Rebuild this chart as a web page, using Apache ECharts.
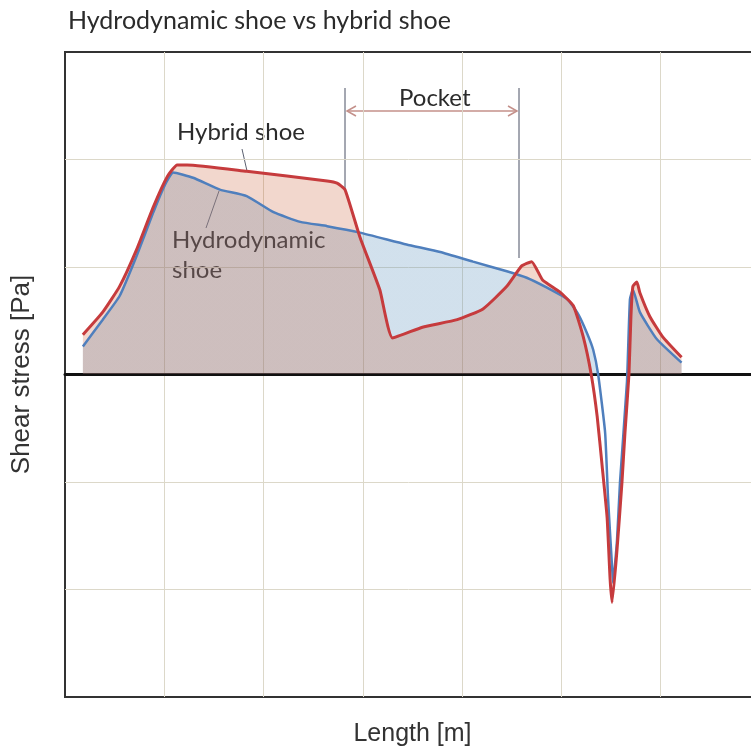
<!DOCTYPE html>
<html>
<head>
<meta charset="utf-8">
<script src="https://cdn.jsdelivr.net/npm/echarts@6/dist/echarts.min.js"></script>
<style>
  html, body { margin: 0; padding: 0; background: #fff; }
  #chart { width: 751px; height: 748px; }
</style>
</head>
<body>
<div id="chart"></div>
<script>
  // hybrid shoe (red)
  var hybridLength = [0.18, 0.38, 0.55, 0.72, 0.89, 1.03, 1.13, 1.23, 1.83, 2.64, 2.74, 2.82, 2.97, 3.17, 3.30,
    3.60, 3.95, 4.21, 4.45, 4.60, 4.70, 4.81, 4.98, 5.12, 5.22, 5.30, 5.36, 5.41, 5.46, 5.49, 5.51,
    5.56, 5.61, 5.64, 5.68, 5.70, 5.72, 5.76, 5.79, 5.89, 6.02, 6.21];
  var hybridShear = [0.37, 0.58, 0.82, 1.16, 1.56, 1.84, 1.95, 1.95, 1.89, 1.80, 1.78, 1.72, 1.28, 0.79, 0.34,
    0.44, 0.51, 0.61, 0.82, 1.01, 1.05, 0.88, 0.77, 0.64, 0.35, 0.0, -0.39, -0.85, -1.33, -1.90, -2.12,
    -1.63, -1.00, -0.54, 0.0, 0.54, 0.82, 0.86, 0.76, 0.54, 0.35, 0.16];
  // hydrodynamic shoe (blue)
  var hydroLength = [0.18, 0.38, 0.55, 0.72, 0.89, 1.01, 1.09, 1.29, 1.56, 1.83, 2.10, 2.37, 2.64, 2.97,
    3.44, 3.78, 4.11, 4.45, 4.65, 4.85, 5.06, 5.17, 5.26, 5.32, 5.37, 5.44, 5.47, 5.51, 5.52,
    5.56, 5.59, 5.66, 5.69, 5.72, 5.79, 5.96, 6.21];
  var hydroShear = [0.26, 0.51, 0.73, 1.10, 1.51, 1.77, 1.88, 1.83, 1.72, 1.66, 1.51, 1.42, 1.38, 1.32,
    1.21, 1.14, 1.05, 0.96, 0.90, 0.81, 0.70, 0.56, 0.38, 0.23, 0.0, -0.54, -1.16, -1.79, -1.94,
    -1.54, -1.00, -0.07, 0.70, 0.79, 0.58, 0.33, 0.11];

  var xTicks = [0, 1, 2, 3, 4, 5, 6, 7];
  var yTicks = [-3, -2, -1, 0, 1, 2, 3];

  function pairs(xs, ys) {
    return xs.map(function (x, i) { return [x, ys[i]]; });
  }

  // area fill only above zero, like the original sheet
  function areaOnly(name, data, opacity) {
    return {
      name: name, type: 'line', data: data, symbol: 'none', silent: true, smooth: 0.15,
      lineStyle: { width: 0, opacity: 0 },
      areaStyle: { opacity: opacity, origin: 0 }
    };
  }

  var myChart = echarts.init(document.getElementById('chart'));
  var label = { fontFamily: 'Lato', fontSize: 24, fill: '#2b2b2b' };
  var hydroData = pairs(hydroLength, hydroShear);
  var hybridData = pairs(hybridLength, hybridShear);
  var gridLine = { show: true, showMinLine: false, showMaxLine: false, lineStyle: { color: '#dcd8c9', width: 1 } };
  var option = {
    animation: false,
    title: {
      text: 'Hydrodynamic shoe vs hybrid shoe',
      left: 63, top: 3,
      textStyle: { fontFamily: 'Lato', fontSize: 25, fontWeight: 'normal', color: '#2b2b2b' }
    },
    grid: {
      left: 65, top: 52, height: 645, width: 695,
      outerBoundsMode: 'none', containLabel: false,
      show: true, borderColor: '#333', borderWidth: 2
    },
    visualMap: [
      { show: false, type: 'piecewise', dimension: 1, seriesIndex: 0,
        pieces: [{ min: 0, max: 10, color: 'rgb(102,152,192)' }, { min: -10, max: 0, color: 'rgba(255,255,255,0)' }] },
      { show: false, type: 'piecewise', dimension: 1, seriesIndex: 1,
        pieces: [{ min: 0, max: 10, color: 'rgb(190,55,5)' }, { min: -10, max: 0, color: 'rgba(255,255,255,0)' }] }
    ],
    xAxis: {
      type: 'value',
      min: xTicks[0], max: xTicks[xTicks.length - 1], interval: 1,
      name: 'Length [m]', nameLocation: 'middle', nameGap: 25,
      nameTextStyle: { fontFamily: 'Liberation Sans', fontSize: 25, color: '#333' },
      axisLine: { show: true, onZero: true, lineStyle: { color: '#111', width: 3 } },
      axisTick: { show: false },
      axisLabel: { show: false },
      splitLine: gridLine
    },
    yAxis: {
      type: 'value',
      min: yTicks[0], max: yTicks[yTicks.length - 1], interval: 1,
      name: 'Shear stress [Pa]', nameLocation: 'middle', nameGap: 30,
      nameTextStyle: { fontFamily: 'Liberation Sans', fontSize: 26, color: '#333' },
      axisLine: { show: false },
      axisTick: { show: false },
      axisLabel: { show: false },
      splitLine: gridLine
    },
    series: [
      areaOnly('Hydrodynamic area', hydroData, 0.3),
      areaOnly('Hybrid area', hybridData, 0.2),
      {
        name: 'Hydrodynamic shoe',
        type: 'line',
        data: hydroData,
        symbol: 'none',
        smooth: 0.15,
        lineStyle: { color: '#4f7fbd', width: 2.5 }
      },
      {
        name: 'Hybrid shoe',
        type: 'line',
        data: hybridData,
        symbol: 'none',
        smooth: 0.15,
        lineStyle: { color: '#c63b3d', width: 3 }
      }
    ],
    graphic: [
      { type: 'text', left: 177, top: 120, style: Object.assign({ text: 'Hybrid shoe' }, label) },
      { type: 'line', shape: { x1: 242, y1: 149, x2: 247, y2: 171 }, style: { stroke: '#5a6070', lineWidth: 1 } },
      { type: 'text', left: 172, top: 225, style: Object.assign({ text: 'Hydrodynamic\nshoe', lineHeight: 30 }, label) },
      { type: 'line', shape: { x1: 219, y1: 191, x2: 206, y2: 228 }, style: { stroke: '#6a7486', lineWidth: 1 } },
      { type: 'text', left: 399, top: 86, style: Object.assign({ text: 'Pocket', fontSize: 23 }, label) },
      { type: 'line', shape: { x1: 345, y1: 88, x2: 345, y2: 190 }, style: { stroke: '#4a5064', lineWidth: 1 } },
      { type: 'line', shape: { x1: 519, y1: 88, x2: 519, y2: 258 }, style: { stroke: '#4a5064', lineWidth: 1 } },
      { type: 'polyline', shape: { points: [[347, 111], [517, 111]] }, style: { stroke: '#c4908a', lineWidth: 1.5 } },
      { type: 'polyline', shape: { points: [[356, 106], [347, 111], [356, 116]] }, style: { stroke: '#c4908a', lineWidth: 1.5, fill: null } },
      { type: 'polyline', shape: { points: [[508, 106], [517, 111], [508, 116]] }, style: { stroke: '#c4908a', lineWidth: 1.5, fill: null } }
    ]
  };
  myChart.setOption(option);
</script>
</body>
</html>
